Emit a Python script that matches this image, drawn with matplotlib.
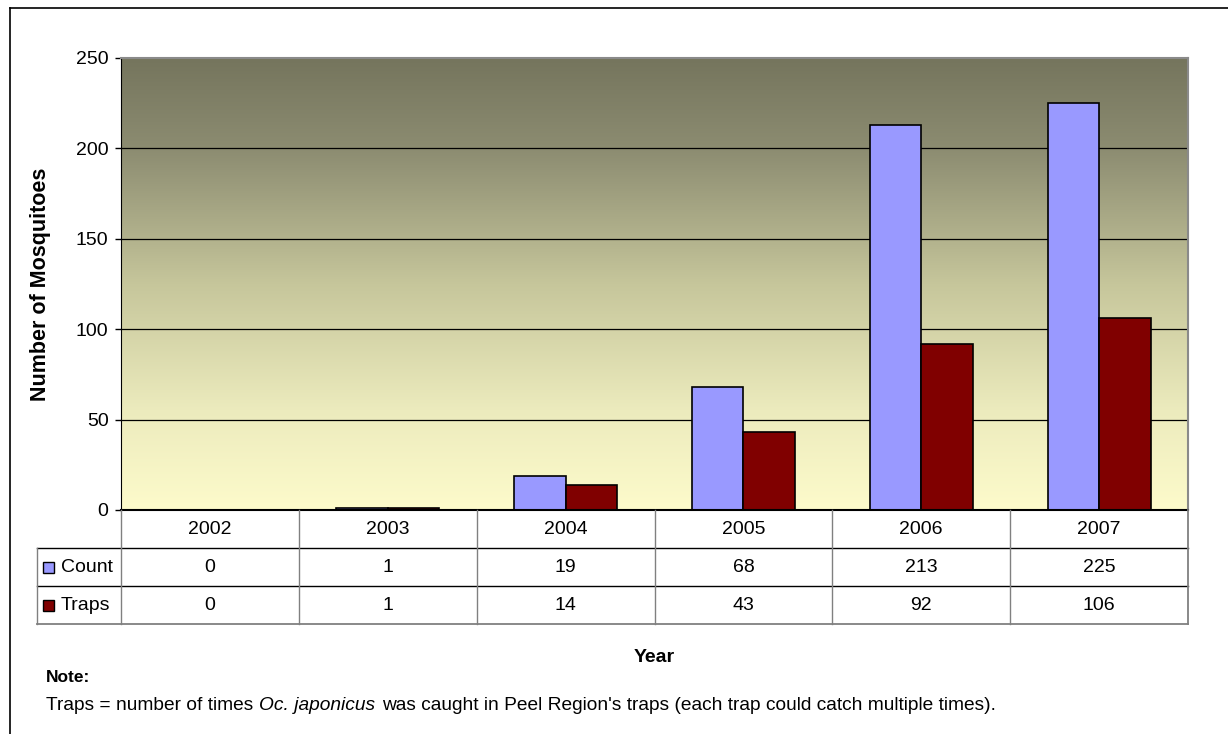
import matplotlib
matplotlib.use("Agg")
import matplotlib.pyplot as plt
import numpy as np
from matplotlib.colors import LinearSegmentedColormap
from matplotlib.lines import Line2D
from matplotlib.patches import Rectangle

plt.rcParams['font.family'] = ['Liberation Sans', 'DejaVu Sans']

years = ['2002', '2003', '2004', '2005', '2006', '2007']
count = [0, 1, 19, 68, 213, 225]
traps = [0, 1, 14, 43, 92, 106]
series_names = ['Count', 'Traps']
series_colors = ['#9999ff', '#800000']
yticks = [0, 50, 100, 150, 200, 250]

W, H = 1228, 734
fig = plt.figure(figsize=(W / 100, H / 100), dpi=100)

def fx(px):
    return px / W

def fy(py):
    return 1 - py / H

# plot area in pixels
L, R, T, B = 121, 1188, 58, 510
ax = fig.add_axes([fx(L), fy(B), fx(R) - fx(L), fy(T) - fy(B)])
n = len(years)

# gradient background, dark olive at the top fading to pale yellow
grad = LinearSegmentedColormap.from_list(
    'bg', [(0.0, '#75755d'), (0.2, '#8c8c71'), (0.5, '#c6c69b'),
           (0.78, '#ecebbd'), (1.0, '#fdfbcb')])
g = np.linspace(0, 1, 256).reshape(-1, 1)
ax.imshow(g, cmap=grad, aspect='auto', extent=[0, n, 0, 250], origin='upper', zorder=0)
ax.set_xlim(0, n)
ax.set_ylim(0, 250)

for yv in yticks[1:-1]:
    ax.axhline(yv, color='black', lw=0.9, zorder=1)

x = np.arange(n) + 0.5
bw = 0.29
ax.bar(x - bw / 2, count, bw, color=series_colors[0], edgecolor='black', lw=1.2, zorder=2)
ax.bar(x + bw / 2, traps, bw, color=series_colors[1], edgecolor='black', lw=1.2, zorder=2)

ax.set_xticks([])
ax.set_yticks(yticks)
ax.tick_params(axis='y', length=4, width=1, labelsize=14, pad=5, colors='black')
for s in ['top', 'right']:
    ax.spines[s].set_color('#8a8a8a')
    ax.spines[s].set_linewidth(1.5)
ax.spines['left'].set_color('black')
ax.spines['bottom'].set_color('black')
ax.spines['bottom'].set_linewidth(1.5)

ax.set_ylabel('Number of Mosquitoes', fontsize=15.5, fontweight='bold')
ax.yaxis.set_label_coords((51 - L) / (R - L), 0.5)

# data table below the plot
cw = (R - L) / n
rows = [510, 548, 586, 624]
hdr_l = 37

def hline(x0, x1, y, color='black', lw=1.0):
    fig.add_artist(Line2D([fx(x0), fx(x1)], [fy(y), fy(y)], color=color, lw=lw, transform=fig.transFigure))

def vline(xp, y0, y1, color='#808080', lw=1.0):
    fig.add_artist(Line2D([fx(xp), fx(xp)], [fy(y0), fy(y1)], color=color, lw=lw, transform=fig.transFigure))

hline(hdr_l, R, rows[1])
hline(hdr_l, R, rows[2])
hline(hdr_l, R, rows[3], color='#808080', lw=1.3)
vline(L, rows[0], rows[3])
vline(hdr_l, rows[1], rows[3])
for k in range(1, n + 1):
    vline(L + k * cw, rows[0], rows[3], lw=1.3 if k == n else 1.0)

fs = 14
for i, yr in enumerate(years):
    cx = L + (i + 0.5) * cw
    fig.text(fx(cx), fy((rows[0] + rows[1]) / 2), yr, ha='center', va='center', fontsize=fs)
    fig.text(fx(cx), fy((rows[1] + rows[2]) / 2), str(count[i]), ha='center', va='center', fontsize=fs)
    fig.text(fx(cx), fy((rows[2] + rows[3]) / 2), str(traps[i]), ha='center', va='center', fontsize=fs)

for j, (name, col) in enumerate(zip(series_names, series_colors)):
    yc = (rows[j + 1] + rows[j + 2]) / 2
    fig.add_artist(Rectangle((fx(43), fy(yc + 6)), fx(11), fy(0) - fy(11),
                             facecolor=col, edgecolor='black', lw=1, transform=fig.transFigure))
    fig.text(fx(61), fy(yc), name, ha='left', va='center', fontsize=fs)

fig.text(fx((L + R) / 2), fy(657), 'Year', ha='center', va='center', fontsize=14, fontweight='bold')
fig.text(fx(46), fy(678), 'Note:', ha='left', va='center', fontsize=12.5, fontweight='bold')
nfs = 13.8
t1 = fig.text(fx(46), fy(705), 'Traps = number of times ', ha='left', va='center', fontsize=nfs)
fig.canvas.draw()
r = fig.canvas.get_renderer()
bb = t1.get_window_extent(r)
t2 = fig.text(bb.x1 / W, fy(705), 'Oc. japonicus', ha='left', va='center', fontsize=nfs, style='italic')
bb2 = t2.get_window_extent(r)
fig.text(bb2.x1 / W + 7 / W, fy(705),
         "was caught in Peel Region's traps (each trap could catch multiple times).",
         ha='left', va='center', fontsize=nfs)

# outer chart frame
hline(10, W, 8, color='black', lw=1.2)
vline(10, 8, H, color='black', lw=1.2)

fig.savefig('out.png', dpi=100, facecolor='white')
